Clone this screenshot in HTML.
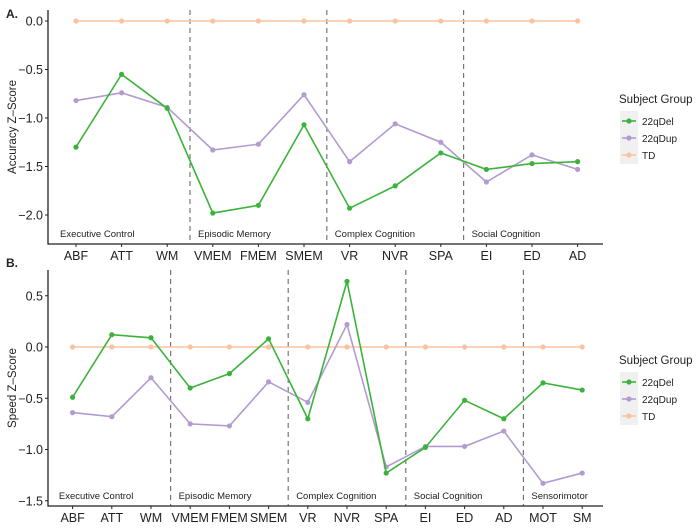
<!DOCTYPE html>
<html><head><meta charset="utf-8"><style>
body{margin:0;background:#fff;width:700px;height:527px;overflow:hidden}
svg{font-family:"Liberation Sans",sans-serif}
</style></head><body>
<svg id="chart" width="700" height="527" viewBox="0 0 700 527" xmlns="http://www.w3.org/2000/svg"></svg>
<script>
const catsA = ["ABF","ATT","WM","VMEM","FMEM","SMEM","VR","NVR","SPA","EI","ED","AD"];
const delA = [-1.30,-0.55,-0.90,-1.98,-1.90,-1.07,-1.93,-1.70,-1.36,-1.53,-1.47,-1.45];
const dupA = [-0.82,-0.74,-0.89,-1.33,-1.27,-0.76,-1.45,-1.06,-1.25,-1.66,-1.38,-1.53];
const tdA = [0,0,0,0,0,0,0,0,0,0,0,0];
const ticksA = [0,-0.5,-1,-1.5,-2];
const tickLabelsA = ["0.0","\u22120.5","\u22121.0","\u22121.5","\u22122.0"];
const domainsA = ["Executive Control","Episodic Memory","Complex Cognition","Social Cognition"];

const catsB = ["ABF","ATT","WM","VMEM","FMEM","SMEM","VR","NVR","SPA","EI","ED","AD","MOT","SM"];
const delB = [-0.49,0.12,0.09,-0.40,-0.26,0.08,-0.70,0.64,-1.23,-0.98,-0.52,-0.70,-0.35,-0.42];
const dupB = [-0.64,-0.68,-0.30,-0.75,-0.77,-0.34,-0.54,0.22,-1.17,-0.97,-0.97,-0.82,-1.33,-1.23];
const tdB = [0,0,0,0,0,0,0,0,0,0,0,0,0,0];
const ticksB = [0.5,0,-0.5,-1,-1.5];
const tickLabelsB = ["0.5","0.0","\u22120.5","\u22121.0","\u22121.5"];
const domainsB = ["Executive Control","Episodic Memory","Complex Cognition","Social Cognition","Sensorimotor"];

const seriesNames = ["22qDel","22qDup","TD"];
const colors = {"22qDel":"#3bb33b","22qDup":"#b29bd0","TD":"#f9c3a0"};
const NS="http://www.w3.org/2000/svg";
const svg=document.getElementById('chart');
function mk(tag,attrs,parent,text){const e=document.createElementNS(NS,tag);for(const k in attrs)e.setAttribute(k,attrs[k]);if(text!==undefined)e.textContent=text;(parent||svg).appendChild(e);return e;}

function panel(cfg){
  const g=mk('g',{});
  
  
  const x=i=>cfg.x0+i*cfg.dx;
  const y=v=>cfg.y0-v*cfg.py;
  for(let k=1;k<cfg.domains.length;k++){
    const xi=x(3*k-0.5);
    const l=mk('line',{x1:xi,x2:xi,y1:cfg.top,y2:cfg.axisY,stroke:'#777','stroke-width':1.2,'stroke-dasharray':'5,4'},g);
    
    
  }
  cfg.domains.forEach((d,k)=>{
    const t=mk('text',{x:x(3*k)-(k==0?cfg.dx*0.35:-4)+(k==0?0:-cfg.dx*0.5+4),y:cfg.domY,'font-size':9.5,fill:'#222'},g,d);
    
    
  });
  const ax=mk('path',{d:`M${cfg.axisX},${cfg.top} V${cfg.axisY} H${cfg.right}`,stroke:'#222','stroke-width':1.3,fill:'none'},g);
  
  
  cfg.ticks.forEach((v,i)=>{
    mk('line',{x1:cfg.axisX-3,x2:cfg.axisX,y1:y(v),y2:y(v),stroke:'#222'},g);
    const t=mk('text',{x:cfg.axisX-5,y:y(v)+4.5,'font-size':12.5,'text-anchor':'end',fill:'#222'},g,cfg.tickLabels[i]);
    
    
  });
  cfg.cats.forEach((c,i)=>{
    mk('line',{x1:x(i),x2:x(i),y1:cfg.axisY,y2:cfg.axisY+3,stroke:'#222'},g);
    const t=mk('text',{x:x(i),y:cfg.axisY+16,'font-size':12.5,'text-anchor':'middle',fill:'#222'},g,c);
    
    
  });
  const yt=mk('text',{transform:`translate(16,${(cfg.top+cfg.axisY)/2}) rotate(-90)`,'font-size':11.5,'text-anchor':'middle',fill:'#222'},g,cfg.ytitle);
  
  
  const pl=mk('text',{x:6,y:cfg.labelY,'font-size':12,'font-weight':'bold',fill:'#222'},g,cfg.label);
  
  
  [['TD',cfg.td],['22qDup',cfg.dup],['22qDel',cfg.del]].forEach(([n,vals])=>{
    const p=mk('polyline',{points:vals.map((v,i)=>x(i)+','+y(v)).join(' '),stroke:colors[n],'stroke-width':1.6,fill:'none'},g);
    
    
    vals.forEach((v,i)=>{
      const c=mk('circle',{cx:x(i),cy:y(v),r:2.6,fill:colors[n]},g);
      
      
    });
  });
  const lg=mk('g',{},g);
  
  
  mk('text',{x:619,y:cfg.legY,'font-size':11.5,fill:'#222'},lg,'Subject Group');
  mk('rect',{x:620,y:cfg.legY+8,width:18,height:53,fill:'#f0f0f0'},lg);
  seriesNames.forEach((n,i)=>{
    const ey=cfg.legY+18+i*17;
    const e=mk('g',{},lg);
    
    
    mk('line',{x1:622,x2:636,y1:ey,y2:ey,stroke:colors[n],'stroke-width':1.6},e);
    mk('circle',{cx:629,cy:ey,r:2.6,fill:colors[n]},e);
    mk('text',{x:642,y:ey+4,'font-size':10,fill:'#222'},e,n);
  });
}
panel({name:'accuracy-panel',cats:catsA,del:delA,dup:dupA,td:tdA,ticks:ticksA,tickLabels:tickLabelsA,domains:domainsA,
  x0:76,dx:45.6,y0:21,py:97,top:10,axisY:244,axisX:48,right:603,domY:237,ytitle:'Accuracy Z\u2013Score',label:'A.',labelY:18,legY:103});
panel({name:'speed-panel',cats:catsB,del:delB,dup:dupB,td:tdB,ticks:ticksB,tickLabels:tickLabelsB,domains:domainsB,
  x0:72.6,dx:39.2,y0:347,py:102.5,top:270,axisY:506,axisX:48,right:603,domY:499,ytitle:'Speed Z\u2013Score',label:'B.',labelY:267,legY:364});
</script>
</body></html>
